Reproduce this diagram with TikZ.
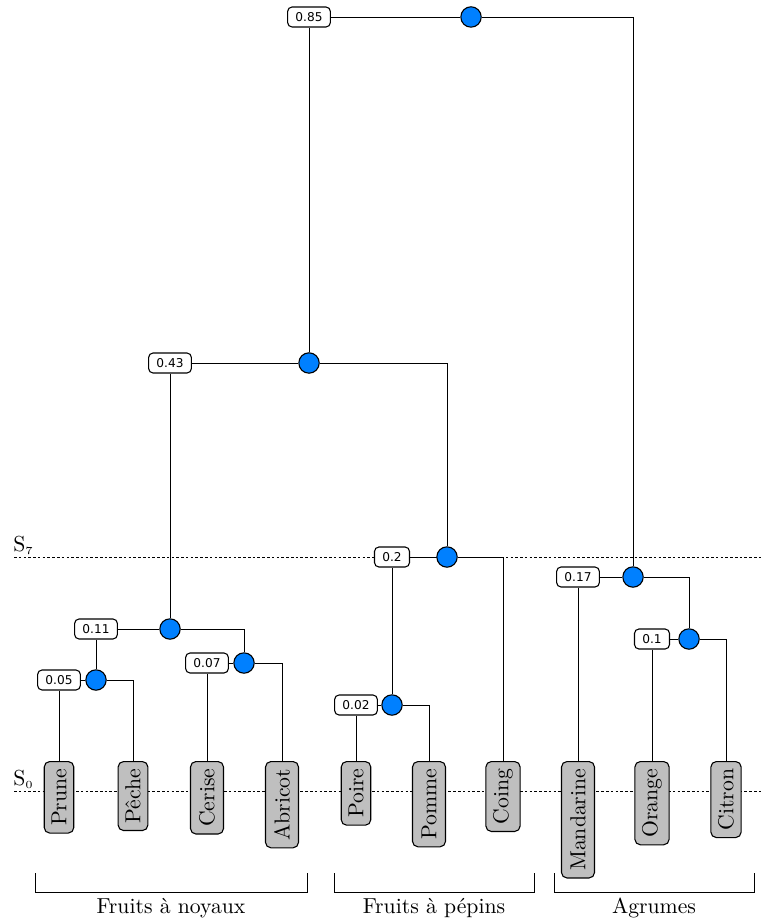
\documentclass[tikz,border=0pt]{standalone}
\usepackage{fontspec}
\newfontfamily\labfont{DejaVu Sans}
\definecolor{nodeblue}{RGB}{0,128,255}
\definecolor{leafgray}{RGB}{191,191,191}
\tikzset{
  merge/.style={circle,draw=black,fill=nodeblue,minimum size=9.4pt,inner sep=0pt,line width=0.5pt},
  lab/.style={draw=black,fill=white,rounded corners=2pt,font=\labfont\fontsize{5.6}{6}\selectfont,inner xsep=3.6pt,inner ysep=0pt,minimum height=9.2pt,line width=0.5pt},
  leaf/.style={draw=black,fill=leafgray,rounded corners=2.5pt,rotate=90,anchor=east,minimum height=13.4pt,inner sep=3.33pt,line width=0.5pt},
  wideleaf/.style={leaf,minimum height=15.2pt},
  conn/.style={line width=0.45pt},
  sline/.style={dash pattern=on 1.2pt off 1pt,line width=0.45pt},
  grp/.style={line width=0.45pt},
  slab/.style={anchor=base west,inner sep=0pt},
  glab/.style={anchor=base,inner sep=0pt}
}
\begin{document}
\begin{tikzpicture}[x=0.4608pt,y=-0.4608pt]
\useasboundingbox (0,0) rectangle (761,918);
% levels
\draw[sline] (14,557) -- (761,557);
\draw[sline] (14,791) -- (761,791);
\node[slab] (s7) at (13,551) {S$_{\scriptscriptstyle 7}$};
\node[slab] (s0) at (13,785) {S$_{\scriptscriptstyle 0}$};
% leaves
\node[leaf] (prune) at (59,761) {Prune};
\node[leaf] (peche) at (133,761) {Pêche};
\node[wideleaf] (cerise) at (207,761) {Cerise};
\node[wideleaf] (abricot) at (282,761) {Abricot};
\node[leaf] (poire) at (356,761) {Poire};
\node[wideleaf] (pomme) at (429,761) {Pomme};
\node[wideleaf] (coing) at (503,761) {Coing};
\node[wideleaf] (mandarine) at (578,761) {Mandarine};
\node[wideleaf] (orange) at (652,761) {Orange};
\node[leaf] (citron) at (726,761) {Citron};
% merge circles
\node[merge] (c85) at (471,17) {};
\node[merge] (c43) at (309,363) {};
\node[merge] (c20) at (447,557) {};
\node[merge] (c02) at (392,705) {};
\node[merge] (c11) at (170,629) {};
\node[merge] (c05) at (96,680) {};
\node[merge] (c07) at (244,663) {};
\node[merge] (c17) at (633,577) {};
\node[merge] (c10) at (689,639) {};
% labels
\node[lab] (l85) at (309,17) {0.85};
\node[lab] (l43) at (170,363) {0.43};
\node[lab] (l20) at (392,557) {0.2};
\node[lab] (l02) at (356,705) {0.02};
\node[lab] (l11) at (96,629) {0.11};
\node[lab] (l05) at (59,680) {0.05};
\node[lab] (l07) at (207,663) {0.07};
\node[lab] (l17) at (578,577) {0.17};
\node[lab] (l10) at (652,639) {0.1};
% connectors
\draw[conn] (l85) -- (c85);
\draw[conn] (l85) -- (c43);
\draw[conn] (c85) -| (c17);
\draw[conn] (l43) -- (c43);
\draw[conn] (l43) -- (c11);
\draw[conn] (c43) -| (c20);
\draw[conn] (l20) -- (c20);
\draw[conn] (l20) -- (c02);
\draw[conn] (c20) -| (coing.east);
\draw[conn] (l02) -- (c02);
\draw[conn] (l02) -- (poire.east);
\draw[conn] (c02) -| (pomme.east);
\draw[conn] (l11) -- (c11);
\draw[conn] (l11) -- (c05);
\draw[conn] (c11) -| (c07);
\draw[conn] (l05) -- (c05);
\draw[conn] (l05) -- (prune.east);
\draw[conn] (c05) -| (peche.east);
\draw[conn] (l07) -- (c07);
\draw[conn] (l07) -- (cerise.east);
\draw[conn] (c07) -| (abricot.east);
\draw[conn] (l17) -- (c17);
\draw[conn] (l17) -- (mandarine.east);
\draw[conn] (c17) -| (c10);
\draw[conn] (l10) -- (c10);
\draw[conn] (l10) -- (orange.east);
\draw[conn] (c10) -| (citron.east);
% groups
\draw[grp] (35,873) |- (307,892) -- (307,873);
\draw[grp] (334,873) |- (534,892) -- (534,873);
\draw[grp] (554,873) |- (754,892) -- (754,873);
\node[glab] (g1) at (171,913) {Fruits à noyaux};
\node[glab] (g2) at (434,913) {Fruits à pépins};
\node[glab] (g3) at (654,913) {Agrumes};
\end{tikzpicture}
\end{document}
